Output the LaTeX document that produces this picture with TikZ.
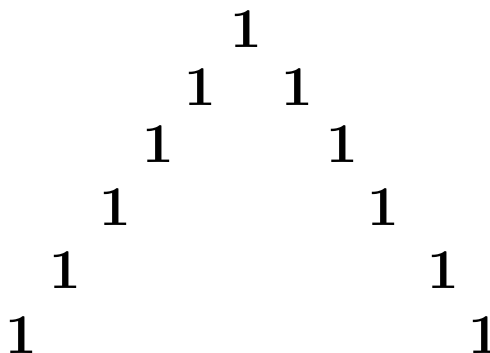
\documentclass[tikz,border=0pt]{standalone}
\begin{document}
\begin{tikzpicture}[
x=0.02cm, y=-0.02cm,
every node/.style={inner sep=0pt, font=\fontsize{32}{38}\selectfont\bfseries}
]
\useasboundingbox (0,0) rectangle (490,352);
\node (top) at (246,29) {1};
\foreach \r/\xl/\xr/\y in {2/200/297/87, 3/158/342/144, 4/115/383/207, 5/65/443/270, 6/21/484/335}
{
    \node (l\r) at (\xl,\y) {1};
    \node (r\r) at (\xr,\y) {1};
}
\end{tikzpicture}
\end{document}
